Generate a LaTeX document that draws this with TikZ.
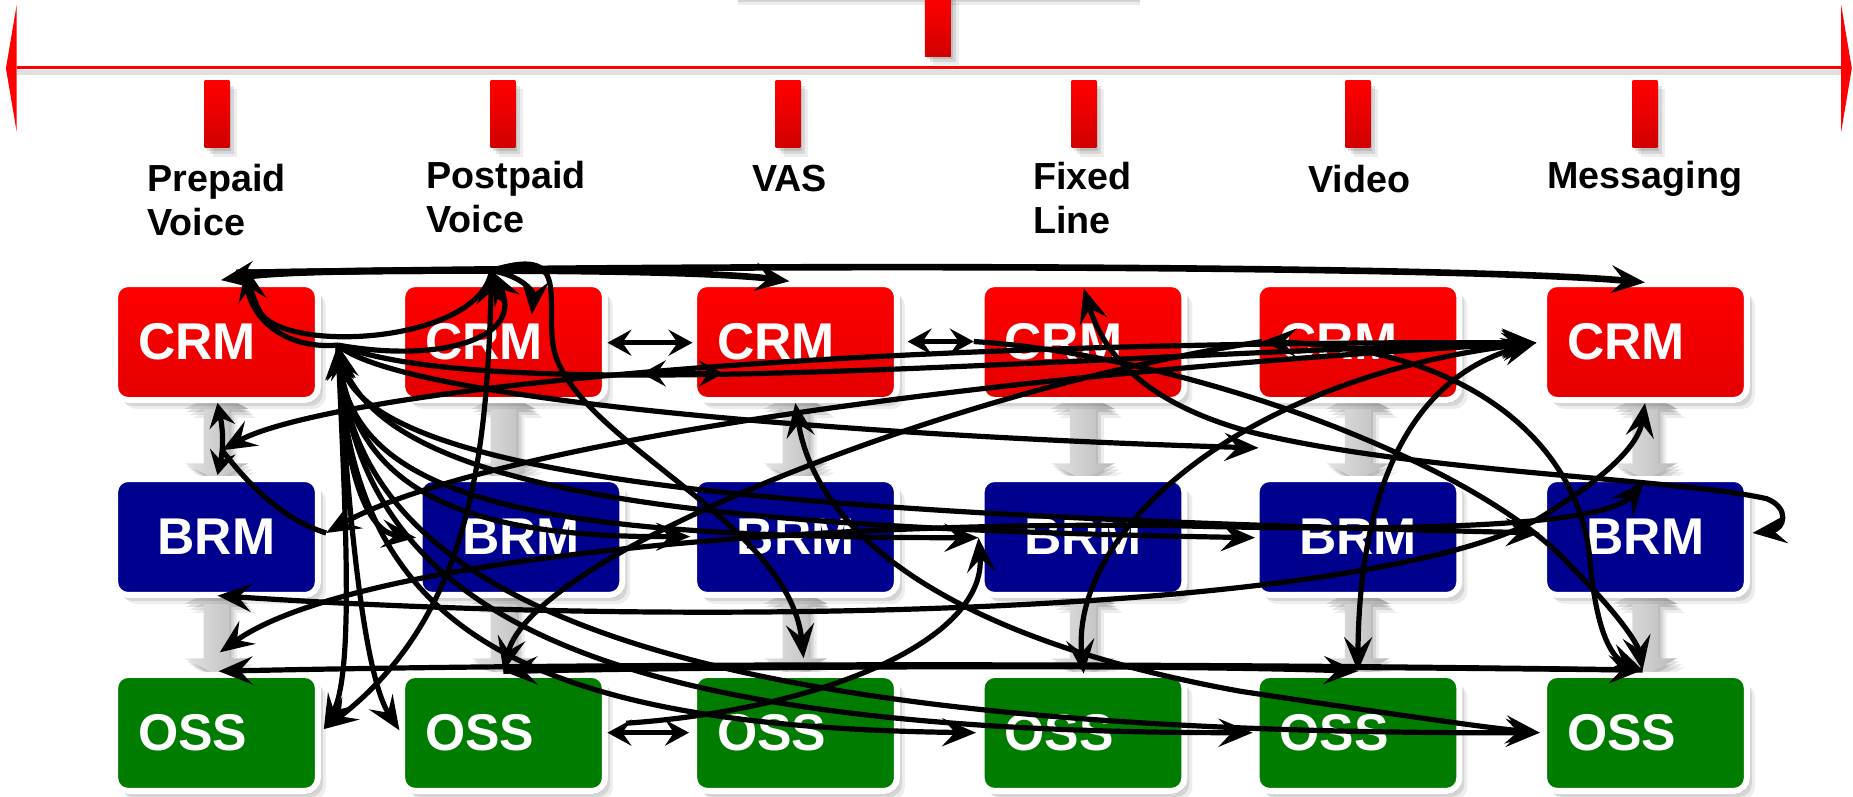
\documentclass[tikz,border=0pt]{standalone}
\usepackage{fontspec}
\setmainfont{Liberation Sans}
\usetikzlibrary{arrows.meta,shadows}
\definecolor{crmred}{HTML}{FF0000}
\definecolor{crmdark}{HTML}{E40000}
\definecolor{brmblue}{HTML}{00008E}
\definecolor{ossgreen}{HTML}{007C00}
\definecolor{tickdark}{HTML}{D20000}
\begin{document}
\begin{tikzpicture}[x=0.59094pt,y=-0.59094pt,
 softshadow/.style={general shadow={fill=black,opacity=.12,shadow xshift=1pt,shadow yshift=-1.5pt},general shadow={fill=black,opacity=.10,shadow xshift=2.5pt,shadow yshift=-3pt},general shadow={fill=black,opacity=.07,shadow xshift=4pt,shadow yshift=-4.5pt}},
 box/.style={draw=white,line width=3pt,rounded corners=6.5pt,minimum width=101.4pt,minimum height=58pt,text width=78.4pt,inner xsep=11.5pt,inner ysep=0pt,align=left,text=white,font=\fontsize{25.85}{30}\selectfont\bfseries,softshadow},
 crm/.style={box,top color=crmred,bottom color=crmdark},
 brm/.style={box,fill=brmblue,align=center},
 oss/.style={box,fill=ossgreen},
 lab/.style={anchor=north west,inner sep=0pt,align=left,font=\fontsize{18.85}{22}\selectfont\bfseries},
 ar/.style={line width=2.6pt},
 art/.style={line width=3.3pt},
 sm/.style={line width=2.6pt,>={Stealth[length=12pt,width=13pt,inset=4.5pt]}},
 >={Stealth[length=17pt,width=14pt,inset=6.5pt]}]
\useasboundingbox (0,0) rectangle (1568,674);
% top remnant box and stub
\fill[gray!35] (624.5,0) rectangle (964.6,2);
\fill[gray!15] (624.5,2) rectangle (964.6,4);
\shade[top color=crmred,bottom color=tickdark,softshadow] (782.7,-5) rectangle (804.7,47.4);
% axis
\draw[gray!25,line width=2.5pt] (14,61) -- (1558,61);
\draw[red,line width=1.5pt] (14,57.5) -- (1558,57.5);
\fill[red] (14.1,4.2) -- (5,57.8) -- (14.1,111.4) -- cycle;
\fill[red] (1558,4.2) -- (1567,57.8) -- (1558,111.4) -- cycle;
\foreach \x in {183.6,425.6,666.8,917.3,1149.1,1392}
  \shade[top color=crmred,bottom color=tickdark,softshadow] (\x-10.5,67.7) rectangle (\x+10.5,125.2);
% labels
\node[lab] (lpre) at (124.4,138.6) {Prepaid\\Voice};
\node[lab] (lpost) at (360.5,136.1) {Postpaid\\Voice};
\node[lab] (lvas) at (636.3,139.5) {VAS};
\node[lab] (lfix) at (874.1,136.9) {Fixed\\Line};
\node[lab] (lvid) at (1106.8,139.5) {Video};
\node[lab] (lmsg) at (1309,136.1) {Messaging};
% gray connectors
\foreach \cx in {183.2,426.1,673.2,916.4,1149.1,1392.4}{
 \foreach \yy in {336,501}{
  \shade[left color=gray!22,right color=gray!55,softshadow] (\cx,\yy-4) -- (\cx+27,\yy+10) -- (\cx+11,\yy+10) -- (\cx+11,\yy+56) -- (\cx+27,\yy+56) -- (\cx,\yy+70) -- (\cx-27,\yy+56) -- (\cx-11,\yy+56) -- (\cx-11,\yy+10) -- (\cx-27,\yy+10) -- cycle;
 }}
% boxes
\node[crm] (crm1) at (183.2,289.4) {CRM};
\node[crm] (crm2) at (426.1,289.4) {CRM};
\node[crm] (crm3) at (673.2,289.4) {CRM};
\node[crm] (crm4) at (916.4,289.4) {CRM};
\node[crm] (crm5) at (1149.1,289.4) {CRM};
\node[crm] (crm6) at (1392.4,289.4) {CRM};
\node[brm] (brm1) at (183.2,454.4) {BRM};
\node[brm] (brm2) at (440.8,454.4) {BRM};
\node[brm] (brm3) at (673.2,454.4) {BRM};
\node[brm] (brm4) at (916.4,454.4) {BRM};
\node[brm] (brm5) at (1149.1,454.4) {BRM};
\node[brm] (brm6) at (1392.4,454.4) {BRM};
\node[oss] (oss1) at (183.2,620.2) {OSS};
\node[oss] (oss2) at (426.1,620.2) {OSS};
\node[oss] (oss3) at (673.2,620.2) {OSS};
\node[oss] (oss4) at (916.4,620.2) {OSS};
\node[oss] (oss5) at (1149.1,620.2) {OSS};
\node[oss] (oss6) at (1392.4,620.2) {OSS};
% connector end points
\coordinate (hA) at (286,292);
\coordinate (P1) at (187,237);
\coordinate (P1s) at (200,231);
\coordinate (H0) at (208,226);
\coordinate (P2) at (416,229);
\coordinate (C2h) at (450,266);
\coordinate (V1) at (668,238);
\coordinate (M1) at (1392,239);
\coordinate (F1) at (917,244);
\coordinate (Ml) at (1300,290);
\coordinate (C5l) at (1068,289);
\coordinate (G5) at (1065,379);
\coordinate (R6) at (1483,451);
\coordinate (C1b) at (184,341);
\coordinate (B1t) at (184,402);
\coordinate (gL) at (188,381);
\coordinate (B1r) at (276,451);
\coordinate (B1b) at (184,504);
\coordinate (B2l) at (352,455);
\coordinate (B3l) at (584,454);
\coordinate (B4l) at (828,455);
\coordinate (B5l) at (1062,455);
\coordinate (B6l) at (1303,451);
\coordinate (B6t) at (1391,407);
\coordinate (C3b) at (673,341);
\coordinate (C6b) at (1392,341);
\coordinate (O1t) at (185,568);
\coordinate (O1u) at (186,552);
\coordinate (O1r) at (274,617);
\coordinate (O2l) at (338,618);
\coordinate (O2t) at (426,568);
\coordinate (O2s) at (530,612);
\coordinate (O2r) at (514,620);
\coordinate (O3l) at (583,620);
\coordinate (O3t) at (680,557);
\coordinate (O4t) at (917,570);
\coordinate (O4l) at (826,620);
\coordinate (O5t) at (1149,568);
\coordinate (O5l) at (1060,620);
\coordinate (O6t) at (1390,567);
\coordinate (O6l) at (1303,620);
\coordinate (D1a) at (514,290);
\coordinate (D1b) at (586,290);
\coordinate (D2a) at (543,316);
\coordinate (D2b) at (612,316);
\coordinate (D3a) at (768,289);
\coordinate (D3b) at (824,289);
% top lines
\draw[art,->] (P2) .. controls (330,229) and (240,229) .. (P1);
\draw[art,->] (P1s) .. controls (400,227) and (600,229) .. (V1);
\draw[art,->] (P1s) .. controls (700,222) and (1250,226) .. (M1);
\draw[ar,->] (P2) .. controls (405,292) and (235,300) .. (219,262) .. controls (212,247) and (210,236) .. (H0);
\draw[ar] (H0) .. controls (205,268) and (240,296) .. (hA);
\draw[ar,->] (hA) .. controls (375,308) and (445,285) .. (P2);
\draw[ar,->] (P2) .. controls (440,233) and (452,246) .. (C2h);
\draw[ar,->] (P2) .. controls (482,208) and (462,250) .. (468,292) .. controls (480,370) and (668,440) .. (O3t);
\draw[ar,<->] (P2) .. controls (412,380) and (400,520) .. (O1r);
% fan from hub
\draw[ar,<->] (hA) .. controls (292,430) and (300,570) .. (O1r);
\draw[ar,->] (hA) .. controls (296,460) and (310,575) .. (O2l);
\draw[ar,<->] (hA) .. controls (292,400) and (310,450) .. (B2l);
\draw[ar,->] (hA) .. controls (295,420) and (400,455) .. (B3l);
\draw[ar,<->] (hA) .. controls (300,430) and (480,455) .. (B4l);
\draw[ar,->] (hA) .. controls (305,420) and (600,447) .. (B5l);
\draw[ar,<->] (hA) .. controls (310,410) and (700,437) .. (B6l);
\draw[ar,->] (hA) .. controls (295,520) and (420,615) .. (O4l);
\draw[ar,->] (hA) .. controls (300,510) and (480,620) .. (O5l);
\draw[ar,<->] (hA) .. controls (305,500) and (540,622) .. (O6l);
\draw[ar,->] (hA) .. controls (340,340) and (750,370) .. (G5);
\draw[ar,->] (hA) .. controls (420,345) and (900,300) .. (Ml);
% long connectors
\draw[ar,<->] (gL) .. controls (260,340) and (600,288) .. (Ml);
\draw[ar] (gL) .. controls (210,410) and (240,440) .. (B1r);
\draw[ar,<->] (B1r) .. controls (400,380) and (800,318) .. (Ml);
\draw[ar,<->] (O4t) .. controls (905,450) and (1050,320) .. (Ml);
\draw[ar,<->] (O5t) .. controls (1150,420) and (1190,320) .. (Ml);
\draw[sm,<->] (D1a) -- (D1b);
\draw[sm,<->] (D2a) -- (D2b);
\draw[sm,<->] (D3a) -- (D3b);
\draw[sm,<->] (C1b) .. controls (189,365) and (189,380) .. (B1t);
\draw[ar,<->] (B1b) .. controls (600,532) and (1150,520) .. (1300,440) .. controls (1350,410) and (1386,380) .. (C6b);
\draw[ar,<->] (O1u) .. controls (300,470) and (700,440) .. (1000,445) .. controls (1200,450) and (1360,445) .. (B6t);
\draw[ar,<->] (F1) .. controls (940,320) and (1000,350) .. (1060,366) .. controls (1200,400) and (1420,405) .. (1495,422) .. controls (1515,430) and (1510,448) .. (R6);
\draw[ar,<->] (C3b) .. controls (690,450) and (800,540) .. (1050,585) .. controls (1150,600) and (1250,615) .. (O6l);
\draw[ar,<->] (C5l) .. controls (1250,295) and (1335,380) .. (1345,470) .. controls (1350,530) and (1362,556) .. (O6t);
\draw[ar,->] (D3b) .. controls (1000,300) and (1250,390) .. (1330,480) .. controls (1370,520) and (1386,545) .. (O6t);
\draw[ar,->] (O2s) .. controls (700,600) and (835,540) .. (B4l);
\draw[sm,<->] (O2r) -- (O3l);
\draw[ar,<-] (O2t) .. controls (450,470) and (800,330) .. (C5l);
\draw[ar,<->] (O6t) .. controls (1000,561) and (500,561) .. (O1t);
\draw[ar,->] (O6t) .. controls (1000,563) and (700,562) .. (O2t);
\draw[ar,->] (O2t) .. controls (700,563) and (1000,563) .. (O5t);
\end{tikzpicture}
\end{document}
